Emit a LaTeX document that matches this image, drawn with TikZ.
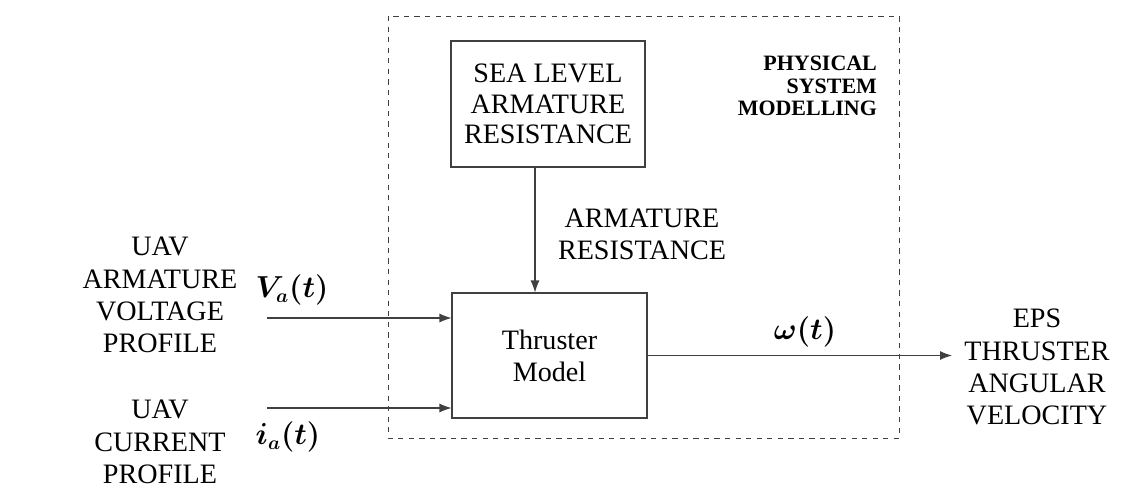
\documentclass[tikz,border=0pt]{standalone}
\usepackage{fontspec}
\setmainfont{Liberation Serif}
\usepackage{amsmath,bm}
\usetikzlibrary{positioning,arrows.meta}

\begin{document}
\begin{tikzpicture}[
  x=0.02cm, y=-0.02cm,
  >={Latex[length=2.4mm,width=1.8mm]},
  font=\fontsize{16}{18.3}\selectfont,
  blk/.style={rectangle, draw=black!75, semithick, align=center, inner sep=3pt},
  txt/.style={align=center, inner sep=1pt},
  sig/.style={inner sep=1pt, font=\fontsize{16}{18}\selectfont\boldmath},
  e/.style={->, semithick, draw=black!75},
]
\useasboundingbox (0,0) rectangle (1143,490);
% physical system boundary
\draw[black!75, dashed, thin] (388,16) rectangle (899,438);
\node[txt, align=right, anchor=north east, font=\fontsize{12.5}{12.8}\selectfont\bfseries] (phys) at (879,54) {PHYSICAL\\SYSTEM\\MODELLING};

\node[blk, minimum width=3.88cm, minimum height=2.52cm, font=\fontsize{16}{17.2}\selectfont] (sea) at (548,104) {SEA LEVEL\\ARMATURE\\RESISTANCE};
\node[blk, minimum width=3.9cm, minimum height=2.5cm] (thr) at (549.5,355.5) {Thruster\\Model};

\node[txt] (res)  at (642,234) {ARMATURE\\RESISTANCE};
\node[txt] (volt) at (160,295) {UAV\\ARMATURE\\VOLTAGE\\PROFILE};
\node[txt] (curr) at (160,442) {UAV\\CURRENT\\PROFILE};
\node[txt] (eps)  at (1037,367) {EPS\\THRUSTER\\ANGULAR\\VELOCITY};

\node[sig] (va) at (292,290) {$V_a(t)$};
\node[sig] (ia) at (288,437) {$i_a(t)$};
\node[sig] (om) at (805,332) {$\omega(t)$};

\coordinate (vin) at (267,318);
\coordinate (iin) at (267,408);
\coordinate (wout) at (952,355.5);

\draw[e] (vin) -- (vin -| thr.west);
\draw[e] (iin) -- (iin -| thr.west);
\draw[e] ([xshift=-13*0.02cm]sea.south) -- ([xshift=-14.5*0.02cm]thr.north);
\draw[e] (thr.east) -- (wout);
\end{tikzpicture}
\end{document}
